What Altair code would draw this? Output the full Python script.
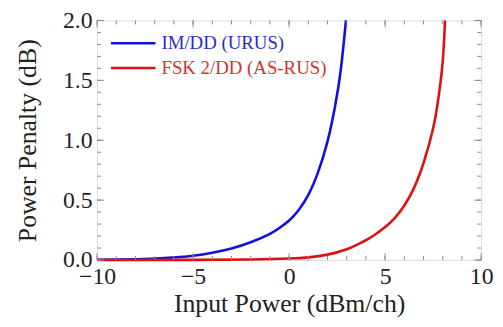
import altair as alt
import pandas as pd

# ---- data ----
blue_name = "IM/DD (URUS)"
red_name = "FSK 2/DD (AS-RUS)"

blue_x = [-10, -8, -6.5, -5, -4, -3, -2, -1, -0.5, 0, 0.5, 1.0, 1.5, 2.0, 2.4, 2.7, 2.96]
blue_y = [0.002, 0.0064, 0.016, 0.036, 0.061, 0.097, 0.148, 0.219, 0.268, 0.33, 0.418, 0.544, 0.73, 0.99, 1.29, 1.6, 2.0]

red_x = [-10, -5, -2, 0, 1, 2, 3, 3.5, 4, 4.5, 5, 5.5, 6, 6.5, 7, 7.5, 7.8, 8.0, 8.12]
red_y = [0.0002, 0.001, 0.004, 0.012, 0.022, 0.045, 0.09, 0.125, 0.165, 0.215, 0.275, 0.35, 0.455, 0.6, 0.81, 1.1, 1.38, 1.66, 2.0]

x_major = [-10, -5, 0, 5, 10]
x_minor = list(range(-10, 11))
y_major = [0.0, 0.5, 1.0, 1.5, 2.0]
y_minor = [round(i / 10, 1) for i in range(21)]

series = [blue_name, red_name]
colors = ["#1010e0", "#e01010"]
text_colors = ["#2a2ac8", "#d83030"]

df = pd.concat([
    pd.DataFrame({"x": blue_x, "y": blue_y, "series": blue_name, "order": 0}),
    pd.DataFrame({"x": red_x, "y": red_y, "series": red_name, "order": 1}),
])

W, H = 388, 242
FONT = "Liberation Serif"
TICK_COLOR = "#8a8a8a"

xs = alt.Scale(domain=[-10, 10], nice=False, zero=False)
ys = alt.Scale(domain=[0, 2], nice=False, zero=False)

lines = alt.Chart(df).mark_line(strokeWidth=2.6, clip=False, interpolate="natural").encode(
    x=alt.X("x:Q", scale=xs, axis=alt.Axis(
        orient="bottom", values=x_major, title="Input Power (dBm/ch)",
        ticks=False, tickSize=0, domain=False, grid=False,
        labelFont=FONT, labelFontSize=24, labelColor="#222", labelPadding=5,
        titleFont=FONT, titleFontSize=26, titleFontWeight="normal", titleColor="#222", titlePadding=2,
        labelFlush=False)),
    y=alt.Y("y:Q", scale=ys, axis=alt.Axis(
        orient="left", values=y_major, format=".1f", title="Power Penalty (dB)",
        ticks=False, tickSize=0, domain=False, grid=False,
        labelFont=FONT, labelFontSize=24, labelColor="#222", labelPadding=5,
        titleFont=FONT, titleFontSize=26, titleFontWeight="normal", titleColor="#222", titlePadding=22,
        labelFlush=False)),
    color=alt.Color("series:N", scale=alt.Scale(domain=series, range=colors), legend=None),
    order=alt.Order("order:Q"),
)

# ---- inward ticks on all four sides ----
xt_minor = pd.DataFrame({"v": x_minor})
xt_major = pd.DataFrame({"v": x_major})
yt_minor = pd.DataFrame({"v": y_minor})
yt_major = pd.DataFrame({"v": y_major})

tick_layers = []
for d, L in [(xt_minor, 4), (xt_major, 7)]:
    tick_layers.append(alt.Chart(d).mark_rule(color=TICK_COLOR, strokeWidth=1).encode(
        x=alt.X("v:Q", scale=xs), y=alt.value(H), y2=alt.value(H - L)))
    tick_layers.append(alt.Chart(d).mark_rule(color=TICK_COLOR, strokeWidth=1).encode(
        x=alt.X("v:Q", scale=xs), y=alt.value(0), y2=alt.value(L)))
for d, L in [(yt_minor, 4), (yt_major, 7)]:
    tick_layers.append(alt.Chart(d).mark_rule(color=TICK_COLOR, strokeWidth=1).encode(
        y=alt.Y("v:Q", scale=ys), x=alt.value(0), x2=alt.value(L)))
    tick_layers.append(alt.Chart(d).mark_rule(color=TICK_COLOR, strokeWidth=1).encode(
        y=alt.Y("v:Q", scale=ys), x=alt.value(W), x2=alt.value(W - L)))

# ---- in-plot legend ----
leg_df = pd.DataFrame({"label": series})
legend_layers = []
for i, (name, c, tc) in enumerate(zip(series, colors, text_colors)):
    yy = 23 + i * 25
    d = leg_df[leg_df["label"] == name]
    legend_layers.append(
        alt.Chart(d).mark_rule(strokeWidth=2.6, color=c).encode(
            x=alt.value(14), x2=alt.value(59), y=alt.value(yy)))
    legend_layers.append(
        alt.Chart(d).mark_text(align="left", baseline="middle", font=FONT, fontSize=19, color=tc).encode(
            x=alt.value(65), y=alt.value(yy), text="label:N"))

chart = alt.layer(lines, *tick_layers, *legend_layers).properties(
    width=W, height=H,
    autosize=alt.AutoSizeParams(type="none"),
    padding={"left": 90, "top": 11, "right": 14, "bottom": 58},
).configure_view(
    stroke="#8a8a8a", strokeWidth=1
).configure(background="white")

chart.save("out.html", embed_options={"renderer": "svg", "actions": False})
